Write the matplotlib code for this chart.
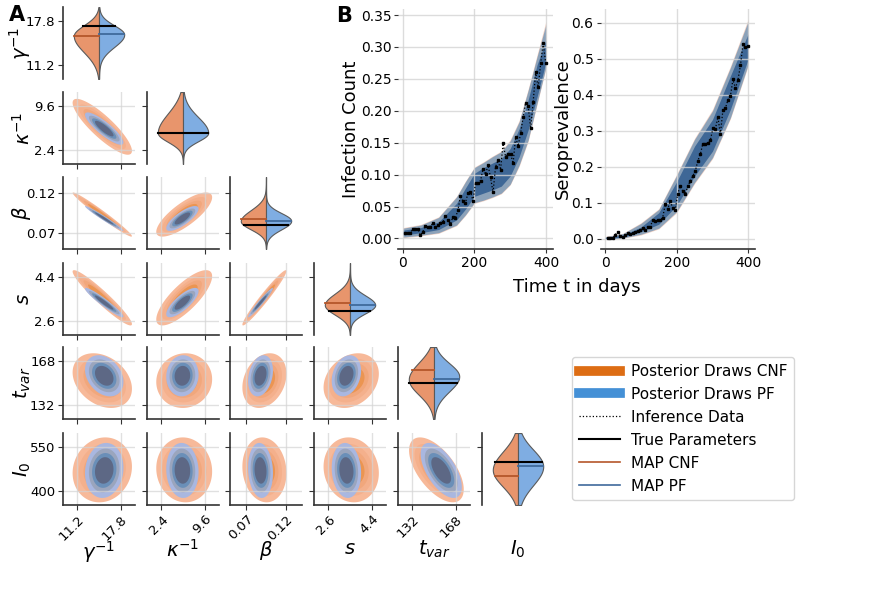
import numpy as np
import matplotlib
matplotlib.use("Agg")
import matplotlib.pyplot as plt
from matplotlib.lines import Line2D

plt.rcParams['font.family'] = ['DejaVu Sans']
plt.rcParams['mathtext.fontset'] = 'dejavusans'

# ---------------- corner plot data ----------------
PARAM_LABELS = [r'$\gamma^{-1}$', r'$\kappa^{-1}$', r'$\beta$', r'$s$', r'$t_{var}$', r'$I_0$']
PARAM_LIMITS = [(9.0, 20.0), (0.0, 12.0), (0.049, 0.141), (2.0, 5.0), (120.0, 180.0), (350.0, 600.0)]
PARAM_TICKS = [(11.2, 17.8), (2.4, 9.6), (0.07, 0.12), (2.6, 4.4), (132, 168), (400, 550)]
PARAM_TICKLABELS = [('11.2', '17.8'), ('2.4', '9.6'), ('0.07', '0.12'), ('2.6', '4.4'), ('132', '168'), ('400', '550')]

TRUE_VALUES = [17.1, 5.15, 0.0796, 3.02, 150.3, 501]
MAP_CNF = [15.6, 5.25, 0.087, 3.33, 160.7, 449]
MAP_PF = [15.8, 5.15, 0.085, 3.26, 153.0, 484]

# violin (marginal) shapes: mode, spread below and above the mode
VIOLIN_CNF_MODE = [15.6, 5.2, 0.0846, 3.25, 153, 472]
VIOLIN_CNF_SD_LOW = [2.5, 1.5, 0.0105, 0.40, 12.8, 58]
VIOLIN_CNF_SD_HIGH = [1.6, 3.2, 0.014, 0.47, 14.0, 63]
VIOLIN_PF_MODE = [15.8, 5.2, 0.085, 3.25, 155.5, 484]
VIOLIN_PF_SD_LOW = [1.9, 1.4, 0.011, 0.35, 12.5, 65]
VIOLIN_PF_SD_HIGH = [1.4, 2.6, 0.010, 0.40, 11.0, 58]

# pairwise density summaries
KDE_CNF_MEAN = [15.0, 6.2, 0.093, 3.55, 152, 472]
KDE_CNF_SD = [1.85, 1.9, 0.0115, 0.47, 9.3, 46]
KDE_PF_MEAN = [15.3, 5.9, 0.088, 3.35, 156, 470]
KDE_PF_SD = [1.2, 1.1, 0.0065, 0.25, 7.0, 39]
CORR = [
    [1.00, -0.86, -0.98, -0.95, -0.30, 0.10],
    [-0.86, 1.00, 0.78, 0.78, 0.05, -0.05],
    [-0.98, 0.78, 1.00, 0.97, 0.25, -0.10],
    [-0.95, 0.78, 0.97, 1.00, 0.25, -0.10],
    [-0.30, 0.05, 0.25, 0.25, 1.00, -0.60],
    [0.10, -0.05, -0.10, -0.10, -0.60, 1.00],
]
HDR_RADII = [2.45, 1.95, 1.55, 1.18]

# ---------------- panel B data ----------------
DAYS = [7, 14, 21, 28, 35, 42, 49, 56, 63, 70, 77, 84, 91, 98, 105, 112, 119, 126, 133, 140,
        147, 154, 161, 168, 175, 182, 189, 196, 203, 210, 217, 224, 231, 238, 245, 252, 259,
        266, 273, 280, 287, 294, 301, 308, 315, 322, 329, 336, 343, 350, 357, 364, 371, 378,
        385, 392, 399]
INFECTION = [0.0089, 0.0089, 0.0089, 0.0152, 0.0141, 0.0152, 0.0052, 0.0104, 0.0199, 0.0183,
             0.0183, 0.0240, 0.0183, 0.0204, 0.0235, 0.0256, 0.0355, 0.0287, 0.0225, 0.0340,
             0.0324, 0.0444, 0.0669, 0.0580, 0.0559, 0.0711, 0.0731, 0.0590, 0.0867, 0.0873,
             0.0904, 0.1087, 0.1003, 0.1149, 0.0956, 0.0721, 0.1123, 0.1223, 0.1076, 0.1489,
             0.1280, 0.1327, 0.1327, 0.1176, 0.1588, 0.1447, 0.1646, 0.1900, 0.2126, 0.2074,
             0.1724, 0.2132, 0.2612, 0.2367, 0.2743, 0.3056, 0.2753]
SERO = [0.003, 0.003, 0.001, 0.010, 0.019, 0.007, 0.005, 0.010, 0.015, 0.012,
        0.015, 0.018, 0.021, 0.023, 0.029, 0.025, 0.033, 0.032, 0.051, 0.049,
        0.051, 0.052, 0.058, 0.095, 0.082, 0.105, 0.084, 0.079, 0.125, 0.146,
        0.132, 0.123, 0.146, 0.160, 0.174, 0.188, 0.216, 0.234, 0.264, 0.264,
        0.265, 0.273, 0.306, 0.304, 0.338, 0.290, 0.357, 0.362, 0.385, 0.396,
        0.442, 0.418, 0.441, 0.481, 0.540, 0.531, 0.535]

INF_BAND_DAYS = [0, 50, 100, 150, 175, 200, 225, 250, 275, 300, 325, 350, 375, 400]
INF_CNF_LO = [0.001, 0.004, 0.008, 0.020, 0.036, 0.055, 0.059, 0.064, 0.070, 0.084, 0.113, 0.152, 0.210, 0.267]
INF_CNF_HI = [0.017, 0.022, 0.034, 0.066, 0.090, 0.112, 0.120, 0.129, 0.137, 0.155, 0.185, 0.234, 0.288, 0.341]
INF_PF_LO = [0.002, 0.005, 0.009, 0.021, 0.037, 0.056, 0.060, 0.065, 0.071, 0.085, 0.115, 0.154, 0.212, 0.269]
INF_PF_HI = [0.016, 0.021, 0.033, 0.065, 0.089, 0.111, 0.119, 0.128, 0.136, 0.153, 0.183, 0.232, 0.285, 0.336]
INF_PF_IN_LO = [0.005, 0.009, 0.014, 0.029, 0.046, 0.066, 0.071, 0.076, 0.082, 0.098, 0.128, 0.170, 0.222, 0.277]
INF_PF_IN_HI = [0.013, 0.017, 0.026, 0.055, 0.079, 0.102, 0.111, 0.118, 0.125, 0.141, 0.172, 0.217, 0.272, 0.311]

SERO_BAND_DAYS = [0, 50, 100, 150, 200, 250, 300, 350, 400]
SERO_CNF_LO = [-0.003, 0.001, 0.010, 0.027, 0.072, 0.153, 0.222, 0.333, 0.481]
SERO_CNF_HI = [0.006, 0.015, 0.044, 0.083, 0.179, 0.279, 0.359, 0.479, 0.611]
SERO_PF_LO = [-0.002, 0.002, 0.012, 0.029, 0.075, 0.156, 0.225, 0.336, 0.485]
SERO_PF_HI = [0.005, 0.014, 0.042, 0.081, 0.176, 0.276, 0.355, 0.475, 0.605]
SERO_PF_IN_LO = [0.000, 0.004, 0.019, 0.040, 0.092, 0.174, 0.243, 0.359, 0.500]
SERO_PF_IN_HI = [0.003, 0.010, 0.032, 0.072, 0.158, 0.257, 0.331, 0.452, 0.570]

# ---------------- styling ----------------
CNF_FILLS = ['#f7b999', '#f4b08c', '#f1a77c', '#eb9552']   # outer -> inner
PF_FILLS = ['#a9b7e0', '#9aa5bd', '#6a8fb8', '#5d6885']    # outer -> inner
VIOLIN_CNF = '#e8956c'
VIOLIN_PF = '#7fade2'
MAPC_COLOR = '#b5562a'
MAPP_COLOR = '#3f6a9c'
SPINE = '#333333'
GRID = '#d4d4d4'

W, H = 872, 602
fig = plt.figure(figsize=(W / 100, H / 100), dpi=100)


def add_axes_px(left, top, width, height):
    return fig.add_axes([left / W, 1 - (top + height) / H, width / W, height / H])


COL_LEFT = [63, 147, 230, 314, 398, 482]
ROW_TOP = [7, 92, 177, 263, 347, 433]
SIZE = 72
HW = 0.7


def half_width(y, mode, lo, hi):
    sd = np.where(y < mode, lo, hi)
    return HW * np.exp(-0.5 * ((y - mode) / sd) ** 2)


n = len(PARAM_LABELS)
for i in range(n):
    for j in range(i + 1):
        ax = add_axes_px(COL_LEFT[j], ROW_TOP[i], SIZE, SIZE)
        for sp in ['top', 'right']:
            ax.spines[sp].set_visible(False)
        ax.spines['left'].set_color(SPINE)
        ax.spines['left'].set_linewidth(1.2)
        ax.spines['bottom'].set_color(SPINE)
        ax.spines['bottom'].set_linewidth(1.2)
        ax.tick_params(length=3.5, width=0.8, color=SPINE, labelsize=9.5, pad=2)
        ylim = PARAM_LIMITS[i]
        ax.set_ylim(*ylim)
        ax.set_yticks(PARAM_TICKS[i])
        if j == 0:
            ax.set_yticklabels(PARAM_TICKLABELS[i])
            ax.set_ylabel(PARAM_LABELS[i], fontsize=14)
            ax.yaxis.set_label_coords(-0.41, 0.5)
        else:
            ax.set_yticklabels([])
        if i == j:
            # split violin
            ax.spines['bottom'].set_visible(False)
            ax.set_xlim(-1, 1)
            ax.set_xticks([])
            yy = np.linspace(ylim[0], ylim[1], 500)
            wc = half_width(yy, VIOLIN_CNF_MODE[i], VIOLIN_CNF_SD_LOW[i], VIOLIN_CNF_SD_HIGH[i])
            wp = half_width(yy, VIOLIN_PF_MODE[i], VIOLIN_PF_SD_LOW[i], VIOLIN_PF_SD_HIGH[i])
            ax.fill_betweenx(yy, -wc, 0, facecolor=VIOLIN_CNF, edgecolor='#5a5a5a', lw=0.8, zorder=2)
            ax.fill_betweenx(yy, 0, wp, facecolor=VIOLIN_PF, edgecolor='#5a5a5a', lw=0.8, zorder=2)

            def wc_at(v):
                return float(half_width(np.array([v]), VIOLIN_CNF_MODE[i], VIOLIN_CNF_SD_LOW[i], VIOLIN_CNF_SD_HIGH[i])[0])

            def wp_at(v):
                return float(half_width(np.array([v]), VIOLIN_PF_MODE[i], VIOLIN_PF_SD_LOW[i], VIOLIN_PF_SD_HIGH[i])[0])

            ax.plot([-wc_at(MAP_CNF[i]), 0], [MAP_CNF[i]] * 2, color=MAPC_COLOR, lw=1.3, zorder=3)
            ax.plot([0, wp_at(MAP_PF[i])], [MAP_PF[i]] * 2, color=MAPP_COLOR, lw=1.3, zorder=3)
            ax.plot([-wc_at(TRUE_VALUES[i]), wp_at(TRUE_VALUES[i])], [TRUE_VALUES[i]] * 2,
                    color='black', lw=1.5, zorder=4)
        else:
            xlim = PARAM_LIMITS[j]
            ax.set_xlim(*xlim)
            ax.set_xticks(PARAM_TICKS[j])
            ax.grid(True, color=GRID, lw=1.0, alpha=0.7)
            gx = np.linspace(xlim[0], xlim[1], 240)
            gy = np.linspace(ylim[0], ylim[1], 240)
            X, Y = np.meshgrid(gx, gy)
            rho = CORR[i][j]
            z = 1.0
            for mean, sd, cols in [(KDE_CNF_MEAN, KDE_CNF_SD, CNF_FILLS), (KDE_PF_MEAN, KDE_PF_SD, PF_FILLS)]:
                zx = (X - mean[j]) / sd[j]
                zy = (Y - mean[i]) / sd[i]
                d2 = (zx ** 2 - 2 * rho * zx * zy + zy ** 2) / (1 - rho ** 2)
                for r, c in zip(HDR_RADII, cols):
                    ax.contourf(X, Y, d2, levels=[-1, r ** 2], colors=[c], zorder=z,
                                antialiased=True)
                    z += 0.01
        if i == n - 1:
            if i != j:
                ax.set_xticklabels(PARAM_TICKLABELS[j], rotation=45, ha='right', rotation_mode='anchor')
            ax.set_xlabel(PARAM_LABELS[j], fontsize=14)
            ax.xaxis.set_label_coords(0.5, -0.47)
        elif i != j:
            ax.set_xticklabels([])

# ---------------- panel B ----------------
def setup_ts(ax):
    ax.spines['top'].set_visible(False)
    ax.spines['right'].set_visible(False)
    ax.spines['left'].set_visible(False)
    ax.spines['bottom'].set_color(SPINE)
    ax.spines['bottom'].set_linewidth(1.2)
    ax.grid(True, color=GRID, lw=1.0, alpha=0.8)
    ax.tick_params(length=3, width=0.8, color=SPINE, labelsize=10, pad=2)
    ax.set_xlim(-12.6, 418.6)
    ax.set_xticks([0, 200, 400])


ax1 = add_axes_px(398.3, 9, 154.4, 240)
setup_ts(ax1)
ax1.fill_between(INF_BAND_DAYS, INF_CNF_LO, INF_CNF_HI, color='#f2d2c4', lw=0, zorder=1)
ax1.fill_between(INF_BAND_DAYS, INF_PF_LO, INF_PF_HI, color='#8ca2b9', lw=0, zorder=1.1)
ax1.fill_between(INF_BAND_DAYS, INF_PF_IN_LO, INF_PF_IN_HI, color='#3e6796', lw=0, zorder=1.2)
ax1.plot(DAYS, INFECTION, color='black', ls=':', lw=0.9, marker='s', ms=1.8, zorder=3)
ax1.set_ylim(-0.0165, 0.3595)
ax1.set_yticks([0.0, 0.05, 0.10, 0.15, 0.20, 0.25, 0.30, 0.35])
ax1.set_yticklabels(['0.00', '0.05', '0.10', '0.15', '0.20', '0.25', '0.30', '0.35'])
ax1.set_ylabel('Infection Count', fontsize=13)
ax1.yaxis.set_label_coords(-0.245, 0.5)

ax2 = add_axes_px(600.5, 9, 154.5, 240)
setup_ts(ax2)
ax2.fill_between(SERO_BAND_DAYS, SERO_CNF_LO, SERO_CNF_HI, color='#f2d2c4', lw=0, zorder=1)
ax2.fill_between(SERO_BAND_DAYS, SERO_PF_LO, SERO_PF_HI, color='#8ca2b9', lw=0, zorder=1.1)
ax2.fill_between(SERO_BAND_DAYS, SERO_PF_IN_LO, SERO_PF_IN_HI, color='#3e6796', lw=0, zorder=1.2)
ax2.plot(DAYS, SERO, color='black', ls=':', lw=0.9, marker='s', ms=1.8, zorder=3)
ax2.set_ylim(-0.0288, 0.6378)
ax2.set_yticks([0.0, 0.1, 0.2, 0.3, 0.4, 0.5, 0.6])
ax2.set_ylabel('Seroprevalence', fontsize=13)
ax2.yaxis.set_label_coords(-0.185, 0.5)

fig.text(577 / W, 1 - 287 / H, 'Time t in days', fontsize=13, ha='center', va='center')

fig.text(17 / W, 1 - 15 / H, 'A', fontsize=15, fontweight='bold', ha='center', va='center')
fig.text(344 / W, 1 - 16 / H, 'B', fontsize=15, fontweight='bold', ha='center', va='center')

handles = [
    Line2D([0], [0], color='#dd6d14', lw=7),
    Line2D([0], [0], color='#4490d6', lw=7),
    Line2D([0], [0], color='black', lw=0.9, ls=':'),
    Line2D([0], [0], color='black', lw=1.5),
    Line2D([0], [0], color=MAPC_COLOR, lw=1.2),
    Line2D([0], [0], color=MAPP_COLOR, lw=1.2),
]
labels = ['Posterior Draws CNF', 'Posterior Draws PF', 'Inference Data', 'True Parameters', 'MAP CNF', 'MAP PF']
leg = fig.legend(handles, labels, loc='upper left', bbox_to_anchor=(572 / W, 1 - 357 / H),
                 fontsize=11, frameon=True, handlelength=2.7, labelspacing=0.52,
                 borderaxespad=0, borderpad=0.45, handletextpad=0.7)
leg.get_frame().set_edgecolor('#cccccc')

fig.savefig('out.png', dpi=100)
